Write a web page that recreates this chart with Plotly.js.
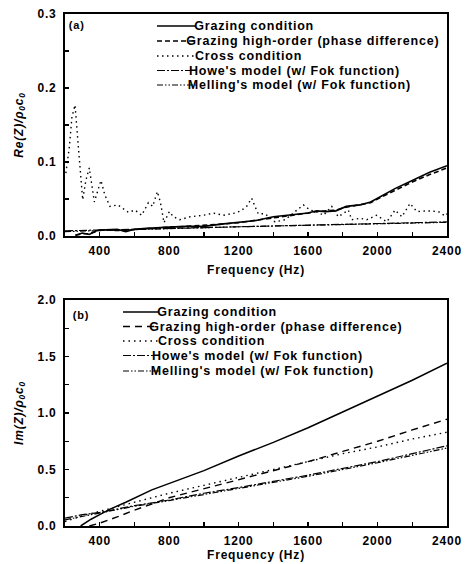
<!DOCTYPE html>
<html>
<head>
<meta charset="utf-8">
<script src="https://cdn.plot.ly/plotly-3.0.1.min.js"></script>
<style>
  html, body { margin: 0; padding: 0; background: #fff; }
  #chart { width: 465px; height: 564px; }
  .main-svg text { letter-spacing: 0.8px; }
</style>
</head>
<body>
<div id="chart"></div>
<script>
// ---------- Panel (a): real part Re(Z)/rho0c0 ----------
const freqA_grazing = [260, 300, 340, 380, 400, 450, 500, 550, 600, 650, 700, 800, 900, 1000, 1100, 1200, 1300, 1400, 1500, 1600, 1650, 1700, 1760, 1820, 1900, 1960, 2000, 2070, 2100, 2200, 2300, 2400];
const reA_grazing = [0.001, 0.004, 0.002, 0.007, 0.008, 0.008, 0.009, 0.006, 0.009, 0.010, 0.011, 0.012, 0.013, 0.013, 0.016, 0.018, 0.021, 0.026, 0.029, 0.031, 0.034, 0.033, 0.034, 0.040, 0.042, 0.046, 0.051, 0.060, 0.064, 0.075, 0.086, 0.095];
const reA_highOrder = [0.001, 0.003, 0.003, 0.006, 0.008, 0.008, 0.008, 0.007, 0.009, 0.010, 0.011, 0.012, 0.013, 0.014, 0.016, 0.018, 0.021, 0.025, 0.028, 0.031, 0.033, 0.034, 0.035, 0.039, 0.042, 0.045, 0.050, 0.058, 0.062, 0.073, 0.083, 0.092];

const freqA_cross = [205, 225, 240, 258, 277, 302, 320, 340, 369, 390, 407, 430, 459, 505, 565, 603, 642, 680, 705, 732, 750, 770, 801, 824, 862, 920, 997, 1054, 1112, 1179, 1212, 1246, 1275, 1294, 1313, 1352, 1410, 1467, 1525, 1573, 1611, 1650, 1688, 1736, 1774, 1832, 1851, 1900, 1938, 1995, 2053, 2101, 2140, 2187, 2226, 2283, 2350, 2389, 2400];
const reA_cross = [0.085, 0.120, 0.161, 0.177, 0.120, 0.049, 0.075, 0.092, 0.046, 0.062, 0.075, 0.055, 0.040, 0.042, 0.032, 0.035, 0.028, 0.045, 0.040, 0.060, 0.045, 0.018, 0.033, 0.026, 0.022, 0.026, 0.028, 0.031, 0.028, 0.031, 0.034, 0.040, 0.051, 0.040, 0.030, 0.030, 0.019, 0.022, 0.033, 0.042, 0.035, 0.033, 0.028, 0.040, 0.026, 0.035, 0.022, 0.024, 0.022, 0.028, 0.019, 0.035, 0.026, 0.044, 0.033, 0.034, 0.033, 0.027, 0.030];

const freqA_models = [200, 400, 800, 1200, 1600, 2000, 2400];
const reA_howe = [0.007, 0.008, 0.010, 0.013, 0.015, 0.017, 0.019];
const reA_melling = [0.006, 0.0075, 0.0095, 0.0125, 0.0145, 0.0165, 0.0185];

// ---------- Panel (b): imaginary part Im(Z)/rho0c0 ----------
const freqB_grazing = [290, 350, 400, 460, 550, 700, 860, 1000, 1200, 1400, 1600, 1800, 2000, 2200, 2400];
const imB_grazing = [0.0, 0.06, 0.10, 0.15, 0.21, 0.32, 0.41, 0.49, 0.62, 0.74, 0.87, 1.01, 1.15, 1.29, 1.44];

const freqB_highOrder = [340, 400, 500, 600, 800, 1000, 1200, 1400, 1600, 1800, 2000, 2200, 2400];
const imB_highOrder = [0.0, 0.025, 0.08, 0.14, 0.25, 0.33, 0.41, 0.49, 0.57, 0.66, 0.75, 0.85, 0.945];

const freqB_cross = [200, 300, 400, 500, 600, 800, 1000, 1200, 1400, 1600, 1800, 2000, 2200, 2400];
const imB_cross = [0.04, 0.09, 0.13, 0.17, 0.21, 0.29, 0.36, 0.43, 0.50, 0.57, 0.64, 0.70, 0.77, 0.83];

const freqB_models = [200, 300, 400, 500, 600, 800, 1000, 1200, 1600, 2000, 2400];
const imB_howe = [0.07, 0.10, 0.12, 0.15, 0.18, 0.23, 0.29, 0.34, 0.45, 0.57, 0.71];
const imB_melling = [0.055, 0.085, 0.11, 0.14, 0.175, 0.225, 0.28, 0.33, 0.44, 0.56, 0.69];

const seriesNames = [
  "Grazing condition",
  "Grazing high-order (phase difference)",
  "Cross condition",
  "Howe's model (w/ Fok function)",
  "Melling's model (w/ Fok function)"
];
const xTickVals = [400, 800, 1200, 1600, 2000, 2400];

// ---------- styles ----------
const FONT = "Liberation Sans, Arial, sans-serif";
const stylesA = [
  {width: 1.6, dash: "solid"},
  {width: 1.6, dash: "5px,3px"},
  {width: 1.4, dash: "1.5px,3.5px"},
  {width: 1.2, dash: "8px,2px,2px,2px"},
  {width: 1.2, dash: "6px,2px,1.5px,2px,1.5px,2px"}
];
const stylesB = [
  {width: 1.5, dash: "solid"},
  {width: 1.4, dash: "7px,5px"},
  {width: 1.4, dash: "1.5px,4px"},
  {width: 1.2, dash: "8px,2px,2px,2px"},
  {width: 1.2, dash: "6px,2px,1.5px,2px,1.5px,2px"}
];

function tr(x, y, i, styles, xa, ya) {
  return {x: x, y: y, type: "scatter", mode: "lines", name: seriesNames[i],
    xaxis: xa, yaxis: ya, showlegend: false,
    line: {color: "#000", width: styles[i].width, dash: styles[i].dash}};
}

const traces = [
  tr(freqA_grazing, reA_grazing, 0, stylesA, "x", "y"),
  tr(freqA_grazing, reA_highOrder, 1, stylesA, "x", "y"),
  tr(freqA_cross, reA_cross, 2, stylesA, "x", "y"),
  tr(freqA_models, reA_howe, 3, stylesA, "x", "y"),
  tr(freqA_models, reA_melling, 4, stylesA, "x", "y"),
  tr(freqB_grazing, imB_grazing, 0, stylesB, "x2", "y2"),
  tr(freqB_highOrder, imB_highOrder, 1, stylesB, "x2", "y2"),
  tr(freqB_cross, imB_cross, 2, stylesB, "x2", "y2"),
  tr(freqB_models, imB_howe, 3, stylesB, "x2", "y2"),
  tr(freqB_models, imB_melling, 4, stylesB, "x2", "y2")
];

// ---------- layout helpers (pixel -> paper) ----------
const W = 465, H = 564, ML = 65, MR = 18, MT = 14, MB = 38;
const PW = W - ML - MR, PH = H - MT - MB;
const px = p => (p - ML) / PW;
const py = p => (H - MB - p) / PH;

const tickFont = {family: FONT, size: 12, color: "#000", weight: "bold"};
function xAxis(anchor, standoff) {
  return {
    anchor: anchor, range: [200, 2400], tickvals: xTickVals,
    ticks: "inside", ticklen: 4, tickwidth: 1.2, tickcolor: "#000",
    minor: {dtick: 200, tick0: 0, ticks: "inside", ticklen: 4, tickwidth: 1.2, tickcolor: "#000"},
    showline: true, linewidth: 2, linecolor: "#000", mirror: true,
    showgrid: false, zeroline: false, tickfont: tickFont, ticklabelstandoff: 3,
    title: {text: "Frequency (Hz)", font: {family: FONT, size: 12, color: "#000", weight: "bold"}, standoff: standoff}
  };
}
function yAxis(anchor, domain, range, dtick, minorDtick, titleText) {
  return {
    anchor: anchor, domain: domain, range: range, dtick: dtick, tickformat: ".1f",
    ticks: "inside", ticklen: 4, tickwidth: 1.2, tickcolor: "#000",
    minor: {dtick: minorDtick, ticks: "inside", ticklen: 4, tickwidth: 1.2, tickcolor: "#000"},
    showline: true, linewidth: 2, linecolor: "#000", mirror: true,
    showgrid: false, zeroline: false, tickfont: tickFont, ticklabelstandoff: 4,
    title: {text: titleText, font: {family: FONT, size: 12, color: "#000", weight: "bold", style: "italic"}, standoff: 14}
  };
}

// legends drawn as shapes + annotations
const legendA = {x0: 157, x1: 196, tx: 199, rows: [26, 41, 56, 70.5, 85]};
const legendB = {x0: 123, x1: 159, tx: 162, rows: [312, 326.5, 341, 355.5, 371]};
const shapes = [];
const annotations = [];
function addLegend(L, styles) {
  L.rows.forEach((r, i) => {
    shapes.push({type: "line", xref: "paper", yref: "paper",
      x0: px(L.x0), x1: px(L.x1), y0: py(r), y1: py(r),
      line: {color: "#000", width: styles[i].width, dash: styles[i].dash}});
    annotations.push({xref: "paper", yref: "paper", x: px(L.tx), y: py(r),
      xanchor: "left", yanchor: "middle", showarrow: false, text: seriesNames[i],
      font: {family: FONT, size: 12.5, color: "#000", weight: "bold"}});
  });
}
addLegend(legendA, stylesA);
addLegend(legendB, stylesB);
annotations.push({xref: "paper", yref: "paper", x: px(68), y: py(25), xanchor: "left", yanchor: "middle",
  showarrow: false, text: "(a)", font: {family: FONT, size: 11, color: "#000", weight: "bold"}});
annotations.push({xref: "paper", yref: "paper", x: px(72), y: py(315), xanchor: "left", yanchor: "middle",
  showarrow: false, text: "(b)", font: {family: FONT, size: 11, color: "#000", weight: "bold"}});

const layout = {
  width: W, height: H,
  margin: {l: ML, r: MR, t: MT, b: MB},
  paper_bgcolor: "#fff", plot_bgcolor: "#fff",
  showlegend: false,
  font: {family: FONT, color: "#000"},
  xaxis: xAxis("y", 8),
  yaxis: yAxis("x", [1 - (236 - MT) / PH, 1], [0, 0.3], 0.1, 0.05, "Re(Z)/ρ<sub>0</sub>c<sub>0</sub>"),
  xaxis2: xAxis("y2", 1),
  yaxis2: yAxis("x2", [0, 1 - (300 - MT) / PH], [0, 2.0], 0.5, 0.25, "Im(Z)/ρ<sub>0</sub>c<sub>0</sub>"),
  shapes: shapes,
  annotations: annotations
};

Plotly.newPlot("chart", traces, layout, {displayModeBar: false, staticPlot: true});
</script>
</body>
</html>
